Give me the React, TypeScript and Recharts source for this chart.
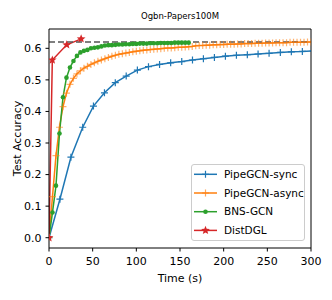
import React from 'react';
import { LineChart, Line, XAxis, YAxis, ReferenceLine, Legend } from 'recharts';

// PipeGCN-sync: time (s) at each marker and test accuracy
const syncTime = [0, 12.5, 25.1, 38.6, 50.9, 63.5, 75.9, 88.4, 101.2, 113.9, 126.6, 139.3, 152.0, 164.3, 176.8, 189.4, 202.0, 214.6, 227.1, 239.4, 252.0, 264.9, 277.5, 290.1, 302.7];
const syncAcc = [0, 0.122, 0.255, 0.35, 0.417, 0.459, 0.491, 0.512, 0.531, 0.542, 0.549, 0.554, 0.558, 0.563, 0.567, 0.571, 0.575, 0.578, 0.58, 0.582, 0.584, 0.587, 0.589, 0.59, 0.592];

// PipeGCN-async: one point every epoch
const asyncEpochSec = 4;
const asyncAcc = [
  0, 0.13, 0.26, 0.35, 0.415, 0.458, 0.486, 0.505, 0.519, 0.529,
  0.537, 0.543, 0.549, 0.554, 0.559, 0.563, 0.567, 0.571, 0.575, 0.578,
  0.581, 0.583, 0.585, 0.587, 0.589, 0.591, 0.592, 0.594, 0.595, 0.596,
  0.597, 0.598, 0.599, 0.6, 0.601, 0.601, 0.602, 0.603, 0.603, 0.604,
  0.605, 0.606, 0.608, 0.609, 0.609, 0.61, 0.61, 0.611, 0.611, 0.612,
  0.612, 0.613, 0.613, 0.613, 0.614, 0.614, 0.615, 0.615, 0.615, 0.616,
  0.616, 0.616, 0.617, 0.617, 0.617, 0.618, 0.618, 0.618, 0.618, 0.619,
  0.619, 0.619, 0.619, 0.619, 0.62, 0.62,
];

// BNS-GCN: one point every epoch
const bnsEpochSec = 4;
const bnsAcc = [
  0, 0.08, 0.165, 0.33, 0.445, 0.507, 0.539, 0.56, 0.576, 0.587,
  0.592, 0.595, 0.6, 0.602, 0.603, 0.606, 0.609, 0.61, 0.61, 0.611,
  0.612, 0.612, 0.613, 0.613, 0.614, 0.614, 0.615, 0.615, 0.615, 0.616,
  0.616, 0.616, 0.617, 0.617, 0.617, 0.617, 0.618, 0.618, 0.618, 0.618,
  0.618,
];

// DistDGL
const distTime = [0, 3.8, 20.3, 36.8];
const distAcc = [0, 0.563, 0.611, 0.63];

const targetAcc = 0.62;
const xTicks = [0, 50, 100, 150, 200, 250, 300];
const yTicks = [0, 0.1, 0.2, 0.3, 0.4, 0.5, 0.6];
const xDomain = [0, 300];
const yDomain = [-0.0326, 0.6612];

const syncData = syncTime.map((t, i) => ({ time: t, acc: syncAcc[i] }));
const asyncData = asyncAcc.map((v, i) => ({ time: i * asyncEpochSec, acc: v }));
const bnsData = bnsAcc.map((v, i) => ({ time: i * bnsEpochSec, acc: v }));
const distData = distTime.map((t, i) => ({ time: t, acc: distAcc[i] }));

const BLUE = '#1f77b4';
const ORANGE = '#ff7f0e';
const GREEN = '#2ca02c';
const RED = '#d62728';
const FONT = '"DejaVu Sans", sans-serif';

const plusPath = (cx: number, cy: number, r: number) =>
  `M${cx - r},${cy}H${cx + r}M${cx},${cy - r}V${cy + r}`;

const starPath = (cx: number, cy: number, ro: number, ri: number) => {
  let d = '';
  for (let k = 0; k < 10; k++) {
    const r = k % 2 === 0 ? ro : ri;
    const a = -Math.PI / 2 + (k * Math.PI) / 5;
    d += `${k === 0 ? 'M' : 'L'}${cx + r * Math.cos(a)},${cy + r * Math.sin(a)}`;
  }
  return d + 'Z';
};

const Plus = ({ cx, cy, color, opacity = 1 }: any) => (
  <path d={plusPath(cx, cy, 3.5)} stroke={color} strokeWidth={1.2} strokeOpacity={opacity} fill="none" />
);
const Dot = ({ cx, cy, color }: any) => <circle cx={cx} cy={cy} r={2.3} fill={color} />;
const Star = ({ cx, cy, color }: any) => <path d={starPath(cx, cy, 4.6, 2)} fill={color} />;

const dotFn = (Shape: any, color: string, opacity?: number) => (p: any) => {
  if (p.cx == null || p.cy == null) return <g key={`d${p.index}`} />;
  return (
    <g key={`d${p.index}`}>
      <Shape cx={p.cx} cy={p.cy} color={color} opacity={opacity} />
    </g>
  );
};

const legendItems = [
  { name: 'PipeGCN-sync', color: BLUE, Shape: Plus, opacity: 1 },
  { name: 'PipeGCN-async', color: ORANGE, Shape: Plus, opacity: 0.7 },
  { name: 'BNS-GCN', color: GREEN, Shape: Dot, opacity: 1 },
  { name: 'DistDGL', color: RED, Shape: Star, opacity: 1 },
];

const LegendBox = () => (
  <div
    style={{
      width: 114,
      height: 77,
      boxSizing: 'border-box',
      border: '1px solid #cccccc',
      borderRadius: 3,
      background: 'rgba(255,255,255,0.8)',
    }}
  >
    <svg width={112} height={75}>
      {legendItems.map((it, i) => {
        const y = 9.3 + i * 18.7;
        return (
          <g key={it.name}>
            <line x1={2} x2={25} y1={y} y2={y} stroke={it.color} strokeWidth={1.5} />
            <it.Shape cx={13.5} cy={y} color={it.color} opacity={it.opacity} />
            <text x={32} y={y} dy="0.36em" fontSize={10.5} fontFamily={FONT} fill="#000">
              {it.name}
            </text>
          </g>
        );
      })}
    </svg>
  </div>
);

const App = () => {
  return (
    <div style={{ position: 'absolute', left: 0, top: 0, width: 332, height: 300, fontFamily: FONT, background: '#fff' }}>
      <div
        style={{
          position: 'absolute',
          left: 49,
          width: 262,
          top: 11,
          lineHeight: '11px',
          textAlign: 'center',
          fontSize: 8.5,
          color: '#000',
        }}
      >
        Ogbn-Papers100M
      </div>
      <LineChart width={332} height={300} margin={{ top: 29, right: 21, bottom: 8, left: 9 }}>
        <XAxis
          dataKey="time"
          type="number"
          domain={xDomain}
          allowDataOverflow
          ticks={xTicks}
          height={44}
          stroke="#000"
          tickSize={3.5}
          tickMargin={5.5}
          tick={{ fill: '#000', fontSize: 11, fontFamily: FONT }}
          label={{ value: 'Time (s)', position: 'center', dy: 8, fill: '#000', fontSize: 11, fontFamily: FONT }}
        />
        <YAxis
          type="number"
          domain={yDomain}
          allowDataOverflow
          ticks={yTicks}
          width={40}
          stroke="#000"
          tickSize={3.5}
          tickMargin={4}
          tickFormatter={(v: number) => v.toFixed(1)}
          tick={{ fill: '#000', fontSize: 11, fontFamily: FONT }}
          label={{ value: 'Test Accuracy', angle: -90, position: 'center', dx: -11.5, fill: '#000', fontSize: 11, fontFamily: FONT }}
        />
        <Line data={syncData} dataKey="acc" name="PipeGCN-sync" stroke={BLUE} strokeWidth={1.5} dot={dotFn(Plus, BLUE)} isAnimationActive={false} />
        <Line data={asyncData} dataKey="acc" name="PipeGCN-async" stroke={ORANGE} strokeWidth={1.5} dot={dotFn(Plus, ORANGE, 0.6)} isAnimationActive={false} />
        <Line data={bnsData} dataKey="acc" name="BNS-GCN" stroke={GREEN} strokeWidth={1.5} dot={dotFn(Dot, GREEN)} isAnimationActive={false} />
        <Line data={distData} dataKey="acc" name="DistDGL" stroke={RED} strokeWidth={1.5} dot={dotFn(Star, RED)} isAnimationActive={false} />
        <ReferenceLine y={targetAcc} stroke="#555" strokeWidth={1.5} strokeDasharray="6 3" />
        {/* top and right frame lines */}
        <ReferenceLine y={yDomain[1]} stroke="#000" strokeWidth={1} />
        <ReferenceLine x={xDomain[1]} stroke="#000" strokeWidth={1} />
        <Legend
          layout="vertical"
          align="center"
          verticalAlign="middle"
          content={() => <LegendBox />}
          wrapperStyle={{ left: 191, top: 164, width: 114, height: 77 }}
        />
      </LineChart>
    </div>
  );
};

export default App;
